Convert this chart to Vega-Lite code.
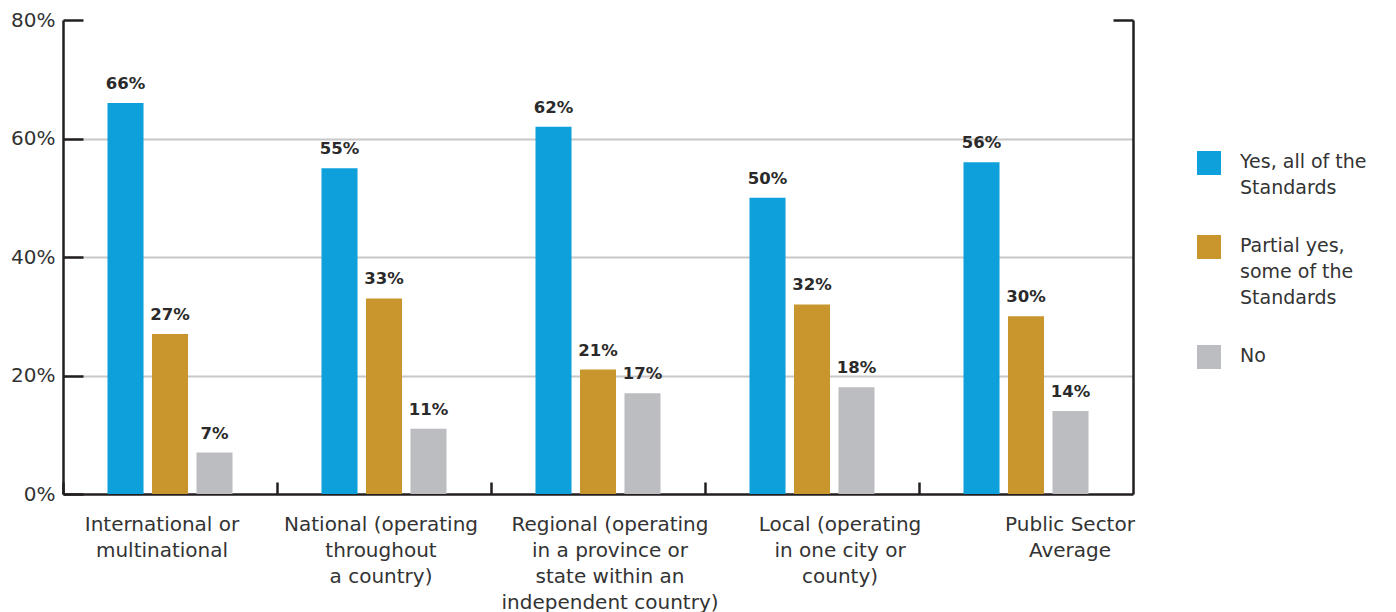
{
  "$schema": "https://vega.github.io/schema/vega-lite/v6.json",
  "width": 1070,
  "height": 474,
  "autosize": {"type": "none"},
  "padding": {"left": 63, "top": 20, "right": 263, "bottom": 118},
  "background": "white",
  "config": {
    "font": "DejaVu Sans",
    "view": {"stroke": null},
    "axis": {"domainColor": "#231f20", "domainWidth": 2.5, "tickColor": "#231f20", "tickWidth": 2.5, "labelColor": "#333333", "labelFontSize": 20, "title": null}
  },
  "data": {
    "values": [
      {"cat": "International or|multinational", "resp": "Yes, all of the|Standards", "v": 0.66},
      {"cat": "International or|multinational", "resp": "Partial yes,|some of the|Standards", "v": 0.27},
      {"cat": "International or|multinational", "resp": "No", "v": 0.07},
      {"cat": "National (operating|throughout|a country)", "resp": "Yes, all of the|Standards", "v": 0.55},
      {"cat": "National (operating|throughout|a country)", "resp": "Partial yes,|some of the|Standards", "v": 0.33},
      {"cat": "National (operating|throughout|a country)", "resp": "No", "v": 0.11},
      {"cat": "Regional (operating|in a province or|state within an|independent country)", "resp": "Yes, all of the|Standards", "v": 0.62},
      {"cat": "Regional (operating|in a province or|state within an|independent country)", "resp": "Partial yes,|some of the|Standards", "v": 0.21},
      {"cat": "Regional (operating|in a province or|state within an|independent country)", "resp": "No", "v": 0.17},
      {"cat": "Local (operating|in one city or|county)", "resp": "Yes, all of the|Standards", "v": 0.50},
      {"cat": "Local (operating|in one city or|county)", "resp": "Partial yes,|some of the|Standards", "v": 0.32},
      {"cat": "Local (operating|in one city or|county)", "resp": "No", "v": 0.18},
      {"cat": "Public Sector|Average", "resp": "Yes, all of the|Standards", "v": 0.56},
      {"cat": "Public Sector|Average", "resp": "Partial yes,|some of the|Standards", "v": 0.30},
      {"cat": "Public Sector|Average", "resp": "No", "v": 0.14}
    ]
  },
  "encoding": {
    "x": {
      "field": "cat", "type": "nominal", "sort": null,
      "scale": {"paddingInner": 0, "paddingOuter": 0},
      "axis": {
        "labelExpr": "split(datum.label, '|')",
        "labelAngle": 0, "labelLineHeight": 26, "labelPadding": 32,
        "labelBaseline": "top",
        "bandPosition": 0, "tickSize": -12,
        "labelLimit": 400,
        "labelOffset": {"expr": "indexof(datum.value, 'International') == 0 ? -8 : indexof(datum.value, 'National') == 0 ? -3 : indexof(datum.value, 'Regional') == 0 ? 12 : indexof(datum.value, 'Local') == 0 ? 28 : 44"}
      }
    },
    "xOffset": {
      "field": "resp", "type": "nominal", "sort": null,
      "scale": {"paddingInner": 0.19, "paddingOuter": 1.08}
    },
    "y": {
      "field": "v", "type": "quantitative",
      "scale": {"domain": [0, 0.8]}
    }
  },
  "layer": [
    {
      "mark": {"type": "bar"},
      "encoding": {
        "y": {
          "field": "v", "type": "quantitative",
          "scale": {"domain": [0, 0.8]},
          "axis": {
            "orient": "left", "values": [0, 0.2, 0.4, 0.6, 0.8],
            "format": ".0%",
            "tickSize": -20, "labelPadding": 28,
            "grid": true, "gridColor": "#c8c8c8", "gridWidth": 2,
            "gridOpacity": {"condition": {"test": "datum.value < 0.01 || datum.value > 0.79", "value": 0}, "value": 1}
          }
        },
        "color": {
          "field": "resp", "type": "nominal", "sort": null,
          "scale": {"domain": ["Yes, all of the|Standards", "Partial yes,|some of the|Standards", "No"], "range": ["#0ea0db", "#c9952d", "#bcbdc1"]},
          "legend": {
            "title": null, "orient": "none", "legendX": 1134, "legendY": 131, "padding": 0,
            "symbolType": "square", "symbolSize": 576, "symbolStrokeWidth": 0, "symbolOpacity": 1,
            "labelExpr": "split(datum.label, '|')",
            "labelFontSize": 19, "labelColor": "#333333",
            "labelOffset": 19, "labelBaseline": "top", "rowPadding": 37, "labelLimit": 300,
            "encode": {"labels": {"update": {"dy": {"value": -10}, "lineHeight": {"value": 26}}}}
          }
        }
      }
    },
    {
      "mark": {"type": "text", "baseline": "alphabetic", "dy": -14, "fontSize": 16.5, "fontWeight": "bold", "color": "#2a2a2a"},
      "encoding": {
        "y": {
          "field": "v", "type": "quantitative",
          "scale": {"domain": [0, 0.8]},
          "axis": {"orient": "right", "values": [0.8], "labels": false, "grid": false, "tickSize": -20}
        },
        "text": {"field": "v", "type": "quantitative", "format": ".0%"}
      }
    }
  ],
  "resolve": {"axis": {"y": "independent"}}
}
